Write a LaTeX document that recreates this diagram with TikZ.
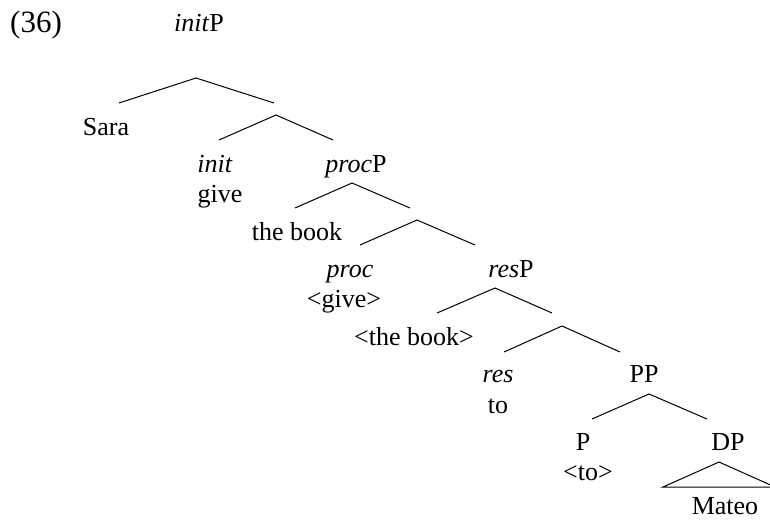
\documentclass[tikz,border=0pt]{standalone}
\usepackage{fontspec}
\setmainfont{Liberation Serif}
\begin{document}
\begin{tikzpicture}[x=1pt,y=-1pt,
  lab/.style={anchor=base,inner sep=0pt,font=\fontsize{26}{30}\selectfont},
  branch/.style={line width=1pt,black}]
\useasboundingbox (0,0) rectangle (770,520);
\clip (0,0) rectangle (770,520);
% labels
\node[lab,anchor=base west,font=\fontsize{31}{36}\selectfont] (num) at (10,32) {(36)};
\node[lab] (initP) at (199,31) {\textit{init}P};
\node[lab] (sara) at (106,135) {Sara};
\node[lab] (init) at (215,172) {\textit{init}};
\node[lab] (give) at (220,202) {give};
\node[lab] (procP) at (356,172) {\textit{proc}P};
\node[lab] (thebook) at (297,240) {the book};
\node[lab] (proc) at (350,277) {\textit{proc}};
\node[lab] (tgive) at (344,307) {<give>};
\node[lab] (resP) at (511,277) {\textit{res}P};
\node[lab] (tthebook) at (414,345) {<the book>};
\node[lab] (res) at (498,382) {\textit{res}};
\node[lab] (to) at (498,413) {to};
\node[lab] (PP) at (644,382) {PP};
\node[lab] (P) at (583,450) {P};
\node[lab] (tto) at (588,480) {<to>};
\node[lab] (DP) at (728,450) {DP};
\node[lab] (mateo) at (725,514) {Mateo};
% branch points
\coordinate (a1) at (196,78);  \coordinate (l1) at (119,103); \coordinate (r1) at (274,103);
\coordinate (a2) at (276,115); \coordinate (l2) at (219,140); \coordinate (r2) at (333,140);
\coordinate (a3) at (352,183); \coordinate (l3) at (295,208); \coordinate (r3) at (410,208);
\coordinate (a4) at (417,220); \coordinate (l4) at (360,245); \coordinate (r4) at (475,245);
\coordinate (a5) at (495,288); \coordinate (l5) at (437,313); \coordinate (r5) at (552,313);
\coordinate (a6) at (562,326); \coordinate (l6) at (504,352); \coordinate (r6) at (620,352);
\coordinate (a7) at (649,394); \coordinate (l7) at (592,419); \coordinate (r7) at (707,419);
\coordinate (t1) at (719,462); \coordinate (t2) at (663,487); \coordinate (t3) at (775,487);
\foreach \i in {1,...,7} {\draw[branch] (l\i) -- (a\i) -- (r\i);}
\draw[branch] (t1) -- (t2) -- (t3) -- cycle;
\end{tikzpicture}
\end{document}
